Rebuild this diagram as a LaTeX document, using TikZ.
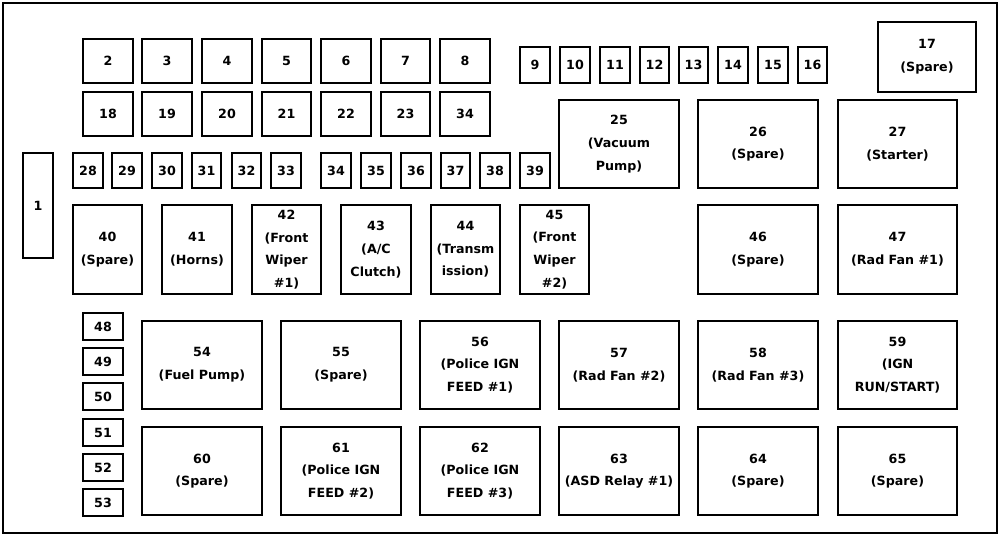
\documentclass[tikz,border=0pt]{standalone}
\usepackage{fontspec}
\setmainfont{DejaVu Sans}
\begin{document}
\begin{tikzpicture}[x=0.75pt,y=-0.75pt,
  fuse/.style={draw=black,line width=0.9pt,inner sep=0pt,align=center,font=\bfseries\fontsize{9.5}{17}\selectfont}]
\useasboundingbox (0,0) rectangle (1000,536);
\draw[line width=0.9pt] (3,3) rectangle (997,533);
\newcommand{\fz}[6]{\node[fuse,minimum width={(#3-#2)*0.75pt},minimum height={(#5-#4)*0.75pt}] (f#1) at ({(#2+#3)/2},{(#4+#5)/2}) {#6};}
% row 1
\fz{2}{83}{133}{39}{83}{2}
\fz{3}{142}{192}{39}{83}{3}
\fz{4}{202}{252}{39}{83}{4}
\fz{5}{262}{311}{39}{83}{5}
\fz{6}{321}{371}{39}{83}{6}
\fz{7}{381}{430}{39}{83}{7}
\fz{8}{440}{490}{39}{83}{8}
% row 2
\fz{18}{83}{133}{92}{136}{18}
\fz{19}{142}{192}{92}{136}{19}
\fz{20}{202}{252}{92}{136}{20}
\fz{21}{262}{311}{92}{136}{21}
\fz{22}{321}{371}{92}{136}{22}
\fz{23}{381}{430}{92}{136}{23}
\fz{34a}{440}{490}{92}{136}{34}
% 9-16
\fz{9}{520}{550}{47}{83}{9}
\fz{10}{560}{590}{47}{83}{10}
\fz{11}{600}{630}{47}{83}{11}
\fz{12}{640}{669}{47}{83}{12}
\fz{13}{679}{708}{47}{83}{13}
\fz{14}{718}{748}{47}{83}{14}
\fz{15}{758}{788}{47}{83}{15}
\fz{16}{798}{827}{47}{83}{16}
\fz{17}{878}{976}{22}{92}{17\\(Spare)}
% 28-39
\fz{28}{73}{103}{153}{188}{28}
\fz{29}{112}{142}{153}{188}{29}
\fz{30}{152}{182}{153}{188}{30}
\fz{31}{192}{221}{153}{188}{31}
\fz{32}{232}{261}{153}{188}{32}
\fz{33}{271}{301}{153}{188}{33}
\fz{34b}{321}{351}{153}{188}{34}
\fz{35}{361}{391}{153}{188}{35}
\fz{36}{401}{431}{153}{188}{36}
\fz{37}{441}{470}{153}{188}{37}
\fz{38}{480}{510}{153}{188}{38}
\fz{39}{520}{550}{153}{188}{39}
\fz{1}{23}{53}{153}{258}{1}
\fz{25}{559}{679}{100}{188}{25\\(Vacuum\\Pump)}
\fz{26}{698}{818}{100}{188}{26\\(Spare)}
\fz{27}{838}{957}{100}{188}{27\\(Starter)}
% 40-47
\fz{40}{73}{142}{205}{294}{40\\(Spare)}
\fz{41}{162}{232}{205}{294}{41\\(Horns)}
\fz{42}{252}{321}{205}{294}{42\\(Front\\Wiper\\\#1)}
\fz{43}{341}{411}{205}{294}{43\\(A/C\\Clutch)}
\fz{44}{431}{500}{205}{294}{44\\(Transm\\ission)}
\fz{45}{520}{589}{205}{294}{45\\(Front\\Wiper\\\#2)}
\fz{46}{698}{818}{205}{294}{46\\(Spare)}
\fz{47}{838}{957}{205}{294}{47\\(Rad Fan \#1)}
% 48-53
\fz{48}{83}{123}{313}{340}{48}
\fz{49}{83}{123}{348}{375}{49}
\fz{50}{83}{123}{383}{410}{50}
\fz{51}{83}{123}{419}{446}{51}
\fz{52}{83}{123}{454}{481}{52}
\fz{53}{83}{123}{489}{516}{53}
% 54-59
\fz{54}{142}{262}{321}{409}{54\\(Fuel Pump)}
\fz{55}{281}{401}{321}{409}{55\\(Spare)}
\fz{56}{420}{540}{321}{409}{56\\(Police IGN\\FEED \#1)}
\fz{57}{559}{679}{321}{409}{57\\(Rad Fan \#2)}
\fz{58}{698}{818}{321}{409}{58\\(Rad Fan \#3)}
\fz{59}{838}{957}{321}{409}{59\\(IGN\\RUN/START)}
% 60-65
\fz{60}{142}{262}{427}{515}{60\\(Spare)}
\fz{61}{281}{401}{427}{515}{61\\(Police IGN\\FEED \#2)}
\fz{62}{420}{540}{427}{515}{62\\(Police IGN\\FEED \#3)}
\fz{63}{559}{679}{427}{515}{63\\(ASD Relay \#1)}
\fz{64}{698}{818}{427}{515}{64\\(Spare)}
\fz{65}{838}{957}{427}{515}{65\\(Spare)}
\end{tikzpicture}
\end{document}
